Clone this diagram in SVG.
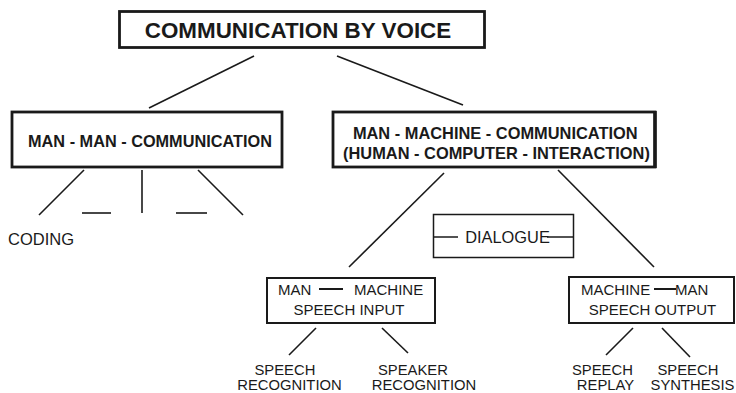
<svg xmlns="http://www.w3.org/2000/svg" width="736" height="393" viewBox="0 0 736 393">
  <style>
    .box { fill: #fff; stroke: #1a1a1a; }
    .thick { stroke-width: 2.8; }
    .mid { stroke-width: 2; }
    .thin { stroke-width: 1.5; }
    .t { font-family: "Liberation Sans", Arial, sans-serif; fill: #1a1a1a; }
    .b { font-weight: bold; }
    .conn line { stroke: #1a1a1a; stroke-width: 1.6; stroke-linecap: butt; }
  </style>
  <rect width="736" height="393" fill="#fff"/>

  <!-- connectors -->
  <g id="connectors" class="conn">
    <line x1="254" y1="56" x2="149" y2="108"/>
    <line x1="337" y1="56" x2="463" y2="105"/>
    <line x1="84" y1="170" x2="39" y2="215"/>
    <line x1="82" y1="213" x2="111" y2="213"/>
    <line x1="142" y1="170" x2="142" y2="213"/>
    <line x1="176" y1="213" x2="207" y2="213"/>
    <line x1="198" y1="170" x2="243" y2="215"/>
    <line x1="444" y1="173" x2="349" y2="267"/>
    <line x1="558" y1="170" x2="654" y2="267"/>
    <line x1="316" y1="328" x2="289" y2="355"/>
    <line x1="382" y1="328" x2="408" y2="353"/>
    <line x1="633" y1="328" x2="606" y2="355"/>
    <line x1="662" y1="328" x2="690" y2="357"/>
  </g>

  <g id="root">
    <rect class="box thick" x="119.5" y="11.5" width="365" height="36"/>
    <text class="t b" x="298" y="38" font-size="22.4" text-anchor="middle">COMMUNICATION BY VOICE</text>
  </g>

  <g id="man-man">
    <rect class="box thick" x="12" y="112" width="270" height="55"/>
    <text class="t b" x="150" y="147" font-size="16.3" text-anchor="middle">MAN - MAN - COMMUNICATION</text>
  </g>

  <g id="coding">
    <text class="t" x="8" y="245" font-size="16.5">CODING</text>
  </g>

  <g id="man-machine">
    <rect class="box thick" x="333" y="112" width="322" height="55"/>
    <line x1="655" y1="111" x2="655" y2="168" stroke="#1a1a1a" stroke-width="3.5"/>
    <text class="t b" font-size="16.4" text-anchor="middle">
      <tspan x="497.5" y="139">MAN - MACHINE - COMMUNICATION</tspan>
      <tspan x="496.5" y="159">(HUMAN - COMPUTER - INTERACTION)</tspan>
    </text>
  </g>

  <g id="dialogue">
    <rect class="box thin" x="433.5" y="214.5" width="140" height="43"/>
    <line x1="434" y1="237" x2="458" y2="237" stroke="#1a1a1a" stroke-width="1.5"/>
    <line x1="547" y1="237" x2="573" y2="237" stroke="#1a1a1a" stroke-width="1.5"/>
    <text class="t" x="507.5" y="243" font-size="16.4" text-anchor="middle">DIALOGUE</text>
  </g>

  <g id="speech-input">
    <rect class="box mid" x="267" y="278" width="168" height="45"/>
    <text class="t" x="278" y="295" font-size="15">MAN</text>
    <line x1="319" y1="289" x2="343" y2="289" stroke="#1a1a1a" stroke-width="2"/>
    <text class="t" x="354" y="295" font-size="15">MACHINE</text>
    <text class="t" x="349" y="315" font-size="15" text-anchor="middle">SPEECH INPUT</text>
  </g>

  <g id="speech-output">
    <rect class="box mid" x="569" y="277" width="165" height="46"/>
    <text class="t" x="581" y="295" font-size="15">MACHINE</text>
    <line x1="654" y1="289" x2="676" y2="289" stroke="#1a1a1a" stroke-width="2"/>
    <text class="t" x="675" y="295" font-size="15">MAN</text>
    <text class="t" x="652.5" y="315" font-size="15" text-anchor="middle">SPEECH OUTPUT</text>
  </g>

  <g id="speech-recognition">
    <text class="t" font-size="14.8" text-anchor="middle">
      <tspan x="287" y="375">SPEECH</tspan>
      <tspan x="289.5" y="390">RECOGNITION</tspan>
    </text>
  </g>

  <g id="speaker-recognition">
    <text class="t" font-size="14.8" text-anchor="middle">
      <tspan x="415" y="375">SPEAKER</tspan>
      <tspan x="424" y="390">RECOGNITION</tspan>
    </text>
  </g>

  <g id="speech-replay">
    <text class="t" font-size="14.8" text-anchor="middle">
      <tspan x="604.5" y="375">SPEECH</tspan>
      <tspan x="605.5" y="390">REPLAY</tspan>
    </text>
  </g>

  <g id="speech-synthesis">
    <text class="t" font-size="14.8" text-anchor="middle">
      <tspan x="690" y="375">SPEECH</tspan>
      <tspan x="692.5" y="390">SYNTHESIS</tspan>
    </text>
  </g>
</svg>
